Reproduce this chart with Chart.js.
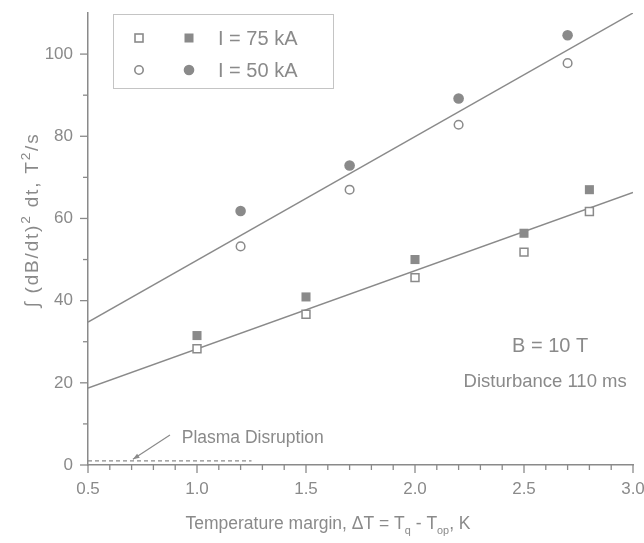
<!DOCTYPE html>
<html>
<head>
<meta charset="utf-8">
<script src="https://cdn.jsdelivr.net/npm/chart.js@4.4.0/dist/chart.umd.min.js"></script>
<style>
  html, body { margin: 0; padding: 0; background: #fff; }
  #wrap { width: 644px; height: 543px; }
</style>
</head>
<body>
<div id="wrap"><canvas id="myChart" width="644" height="543"></canvas></div>
<script>
// data
const xTicks = [0.5, 1.0, 1.5, 2.0, 2.5, 3.0];
const yTicks = [0, 20, 40, 60, 80, 100];

const x75 = [1.0, 1.5, 2.0, 2.5, 2.8];
const open75 = [28.3, 36.7, 45.6, 51.8, 61.7];
const filled75 = [31.5, 40.9, 50.0, 56.4, 67.0];

const x50 = [1.2, 1.7, 2.2, 2.7];
const open50 = [53.2, 67.0, 82.8, 97.8];
const filled50 = [61.8, 72.9, 89.2, 104.6];

const fitX = [0.5, 3.0];
const fit75 = [18.7, 66.3];
const fit50 = [34.8, 110.0];

const disruptX = [0.5, 1.25];
const disruptY = [1.0, 1.0];

const grey = '#8a8a8a';
const fontFam = '"Liberation Sans", Arial, sans-serif';

function pts(xs, ys) {
    return xs.map((x, i) => ({ x: x, y: ys[i] }));
}

// text pieces with sub / superscripts, centred on x
function drawRich(ctx, parts, size, x, y, scale) {
    let total = 0;
    parts.forEach(p => {
        ctx.font = (p.s ? size * scale : size) + 'px ' + fontFam;
        p.w = ctx.measureText(p.t).width;
        total += p.w;
    });
    let cx = x - total / 2;
    parts.forEach(p => {
        ctx.font = (p.s ? size * scale : size) + 'px ' + fontFam;
        let dy = 0;
        if (p.s === 'sub') dy = size * 0.28;
        if (p.s === 'sup') dy = -size * 0.4;
        ctx.fillText(p.t, cx, y + dy);
        cx += p.w;
    });
}

const decorPlugin = {
    id: 'decor',
    afterDraw(chart) {
        const ctx = chart.ctx;
        const xs = chart.scales.x, ys = chart.scales.y;
        const area = chart.chartArea;
        ctx.save();
        ctx.strokeStyle = grey;
        ctx.fillStyle = grey;
        ctx.lineWidth = 1.3;

        // tick marks (major + minor)
        for (let v = 5; v <= 30; v++) {
            const px = xs.getPixelForValue(v / 10);
            const len = v % 5 === 0 ? 8 : 5;
            ctx.beginPath();
            ctx.moveTo(px, area.bottom);
            ctx.lineTo(px, area.bottom + len);
            ctx.stroke();
        }
        for (let v = 0; v <= 100; v += 10) {
            const py = ys.getPixelForValue(v);
            const len = v % 20 === 0 ? 8 : 5;
            ctx.beginPath();
            ctx.moveTo(area.left, py);
            ctx.lineTo(area.left - len, py);
            ctx.stroke();
        }

        // axis titles
        ctx.textBaseline = 'alphabetic';
        drawRich(ctx, [
            { t: 'Temperature margin, \u0394T = T' },
            { t: 'q', s: 'sub' },
            { t: ' - T' },
            { t: 'op', s: 'sub' },
            { t: ', K' }
        ], 17.5, 328, 529, 0.62);

        ctx.save();
        ctx.translate(38, 220);
        ctx.rotate(-Math.PI / 2);
        ctx.letterSpacing = '1.8px';
        drawRich(ctx, [
            { t: '\u222B (dB/dt)' },
            { t: '2', s: 'sup' },
            { t: ' dt, T' },
            { t: '2', s: 'sup' },
            { t: '/s' }
        ], 19, 0, 0, 0.72);
        ctx.restore();

        // text notes
        ctx.textAlign = 'center';
        ctx.textBaseline = 'middle';
        ctx.font = '20px ' + fontFam;
        ctx.fillText('B = 10 T', xs.getPixelForValue(2.62), ys.getPixelForValue(28.8));
        ctx.font = '18.5px ' + fontFam;
        ctx.fillText('Disturbance 110 ms', xs.getPixelForValue(2.597), ys.getPixelForValue(20.3));
        ctx.textAlign = 'left';
        ctx.font = '17.5px ' + fontFam;
        ctx.fillText('Plasma Disruption', xs.getPixelForValue(0.93), ys.getPixelForValue(6.6));

        // arrow to the dashed line
        const ax1 = xs.getPixelForValue(0.876), ay1 = ys.getPixelForValue(7.3);
        const ax2 = xs.getPixelForValue(0.706), ay2 = ys.getPixelForValue(1.4);
        ctx.lineWidth = 1.2;
        ctx.beginPath();
        ctx.moveTo(ax1, ay1);
        ctx.lineTo(ax2, ay2);
        ctx.stroke();
        const ang = Math.atan2(ay2 - ay1, ax2 - ax1);
        ctx.beginPath();
        ctx.moveTo(ax2, ay2);
        ctx.lineTo(ax2 - 7 * Math.cos(ang - 0.35), ay2 - 7 * Math.sin(ang - 0.35));
        ctx.lineTo(ax2 - 7 * Math.cos(ang + 0.35), ay2 - 7 * Math.sin(ang + 0.35));
        ctx.closePath();
        ctx.fill();

        // legend box
        const lx = 113, ly = 14, lw = 220, lh = 74;
        ctx.strokeStyle = '#c4c4c4';
        ctx.lineWidth = 1;
        ctx.strokeRect(lx + 0.5, ly + 0.5, lw, lh);
        ctx.strokeStyle = grey;
        ctx.lineWidth = 1.6;
        const r1 = ly + 24, r2 = ly + 56;
        ctx.fillStyle = '#fff';
        ctx.strokeRect(139 - 4, r1 - 4, 8, 8);
        ctx.fillStyle = grey;
        ctx.fillRect(189 - 4.5, r1 - 4.5, 9, 9);
        ctx.beginPath();
        ctx.arc(139, r2, 4.2, 0, Math.PI * 2);
        ctx.stroke();
        ctx.beginPath();
        ctx.arc(189, r2, 5.3, 0, Math.PI * 2);
        ctx.fill();
        ctx.font = '20px ' + fontFam;
        ctx.textAlign = 'left';
        ctx.textBaseline = 'middle';
        ctx.fillText('I = 75 kA', 218, r1 + 1);
        ctx.fillText('I = 50 kA', 218, r2 + 1);

        ctx.restore();
    }
};

function noPad(s) {
    s.paddingTop = 0;
    s.paddingBottom = 0;
    s.paddingLeft = 0;
    s.paddingRight = 0;
}

const ctx = document.getElementById('myChart').getContext('2d');
const myChart = new Chart(ctx, {
    type: 'scatter',
    data: {
        datasets: [
            {
                label: 'I = 75 kA open',
                data: pts(x75, open75),
                pointStyle: 'rect',
                pointRadius: 5.6,
                borderWidth: 1.5,
                borderColor: grey,
                backgroundColor: '#fff'
            },
            {
                label: 'I = 75 kA filled',
                data: pts(x75, filled75),
                pointStyle: 'rect',
                pointRadius: 6.4,
                borderWidth: 0,
                borderColor: grey,
                backgroundColor: grey
            },
            {
                label: 'I = 50 kA open',
                data: pts(x50, open50),
                pointStyle: 'circle',
                pointRadius: 4.3,
                borderWidth: 1.5,
                borderColor: grey,
                backgroundColor: '#fff'
            },
            {
                label: 'I = 50 kA filled',
                data: pts(x50, filled50),
                pointStyle: 'circle',
                pointRadius: 5.3,
                borderWidth: 0,
                borderColor: grey,
                backgroundColor: grey
            },
            {
                type: 'line',
                label: 'fit 75',
                data: pts(fitX, fit75),
                borderColor: grey,
                borderWidth: 1.5,
                pointRadius: 0,
                order: 5
            },
            {
                type: 'line',
                label: 'fit 50',
                data: pts(fitX, fit50),
                borderColor: grey,
                borderWidth: 1.5,
                pointRadius: 0,
                order: 5
            },
            {
                type: 'line',
                label: 'Plasma Disruption',
                data: pts(disruptX, disruptY),
                borderColor: grey,
                borderWidth: 1.2,
                borderDash: [4, 3],
                pointRadius: 0,
                order: 5
            }
        ]
    },
    options: {
        responsive: false,
        animation: false,
        layout: { padding: { left: 0, right: 11, top: 13, bottom: 0 } },
        plugins: {
            legend: { display: false },
            tooltip: { enabled: false }
        },
        scales: {
            x: {
                type: 'linear',
                min: 0.5,
                max: 3.0,
                afterBuildTicks: (s) => { s.ticks = xTicks.map(v => ({ value: v })); },
                afterFit: (s) => { s.height = 78; noPad(s); },
                grid: { display: false, drawTicks: false },
                border: { display: true, color: grey, width: 1.5 },
                ticks: {
                    padding: 14,
                    color: grey,
                    font: { family: fontFam, size: 17 },
                    maxRotation: 0,
                    callback: (v) => v.toFixed(1)
                }
            },
            y: {
                type: 'linear',
                min: 0,
                max: 110,
                afterBuildTicks: (s) => { s.ticks = yTicks.map(v => ({ value: v })); },
                afterFit: (s) => { s.width = 88; noPad(s); },
                grid: { display: false, drawTicks: false },
                border: { display: true, color: grey, width: 1.5 },
                ticks: {
                    padding: 15,
                    color: grey,
                    font: { family: fontFam, size: 17 }
                }
            }
        }
    },
    plugins: [decorPlugin]
});
</script>
</body>
</html>
